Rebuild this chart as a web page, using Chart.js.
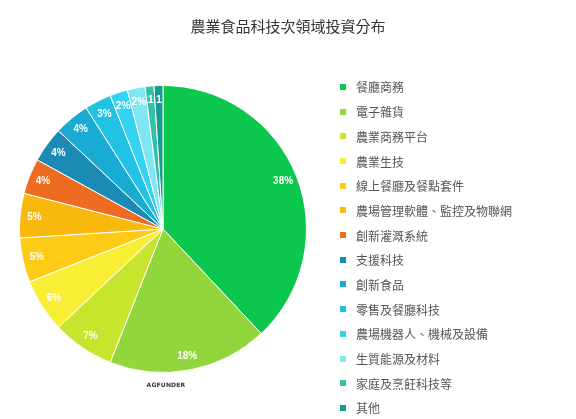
<!DOCTYPE html>
<html>
<head>
<meta charset="utf-8">
<script src="https://cdn.jsdelivr.net/npm/chart.js@4.4.1/dist/chart.umd.min.js"></script>
<style>
  html, body { margin: 0; padding: 0; background: #fff; overflow: hidden; }
  #wrap { position: relative; width: 576px; height: 419px; }
  #title { position: absolute; left: 0; top: 16px; width: 576px; text-align: center; font-family: "Noto Sans CJK TC", sans-serif; font-size: 15px; line-height: 20px; color: #333; }
  #legend { position: absolute; left: 340px; top: 74.6px; font-family: "Noto Sans CJK TC", "Noto Sans", sans-serif; font-size: 12px; color: #555; }
  #legend .item { height: 24.7px; display: flex; align-items: center; white-space: nowrap; }
  #legend .box { width: 6px; height: 6px; margin-right: 10px; }
  #logo { position: absolute; left: 146px; top: 381px; width: 40px; text-align: center; font-family: "DejaVu Sans", sans-serif; font-size: 6px; font-weight: bold; color: #333; letter-spacing: 0.2px; }
</style>
</head>
<body>
<div id="wrap">
  <canvas id="pie-chart" width="576" height="419"></canvas>
  <div id="title">農業食品科技次領域投資分布</div>
  <div id="legend"></div>
  <div id="logo">AGFUNDER</div>
</div>
<script>
// 農業食品科技次領域投資分布 (%)
const categories = ['餐廳商務', '電子雜貨', '農業商務平台', '農業生技', '線上餐廳及餐點套件', '農場管理軟體、監控及物聯網', '創新灌溉系統', '支援科技', '創新食品', '零售及餐廳科技', '農場機器人、機械及設備', '生質能源及材料', '家庭及烹飪科技等', '其他'];
const shares = [38, 18, 7, 6, 5, 5, 4, 4, 4, 3, 2, 2, 1, 1];
const colors = ['#0cc74e', '#91d63b', '#c8e52d', '#f8ee35', '#fdcb16', '#f9b80c', '#ee6c21', '#1a8bb5', '#1aabd4', '#22c2e4', '#36d3f0', '#7fe6f6', '#35bfa8', '#139c8f'];

// percent labels inside the slices
const sliceLabels = {
    id: 'sliceLabels',
    afterDatasetsDraw(chart) {
        const ctx = chart.ctx;
        const meta = chart.getDatasetMeta(0);
        ctx.save();
        ctx.fillStyle = '#fff';
        ctx.font = 'bold 10px "Liberation Sans", Arial, sans-serif';
        ctx.textAlign = 'center';
        ctx.textBaseline = 'middle';
        meta.data.forEach((arc, i) => {
            const p = arc.getProps(['x', 'y', 'startAngle', 'endAngle', 'outerRadius'], true);
            const mid = (p.startAngle + p.endAngle) / 2;
            const r = p.outerRadius * 0.9;
            const v = shares[i];
            const txt = v < 2 ? String(v) : v + '%';
            ctx.fillText(txt, p.x + Math.cos(mid) * r, p.y + Math.sin(mid) * r);
        });
        ctx.restore();
    }
};

const ctx = document.getElementById('pie-chart').getContext('2d');
const chart = new Chart(ctx, {
    type: 'pie',
    data: {
        labels: categories,
        datasets: [{
            data: shares,
            backgroundColor: colors,
            borderColor: '#fff',
            borderWidth: 1,
            hoverOffset: 0
        }]
    },
    options: {
        responsive: false,
        animation: false,
        layout: { padding: { left: 19, right: 269, top: 45, bottom: 6 } },
        plugins: {
            legend: { display: false },
            tooltip: { enabled: false }
        }
    },
    plugins: [sliceLabels]
});

// html legend built from the chart's own legend items
const legendEl = document.getElementById('legend');
chart.options.plugins.legend.labels.generateLabels(chart).forEach(item => {
    const row = document.createElement('div');
    row.className = 'item';
    const box = document.createElement('span');
    box.className = 'box';
    box.style.background = item.fillStyle;
    const txt = document.createElement('span');
    txt.textContent = item.text;
    row.appendChild(box);
    row.appendChild(txt);
    legendEl.appendChild(row);
});
</script>
</body>
</html>
